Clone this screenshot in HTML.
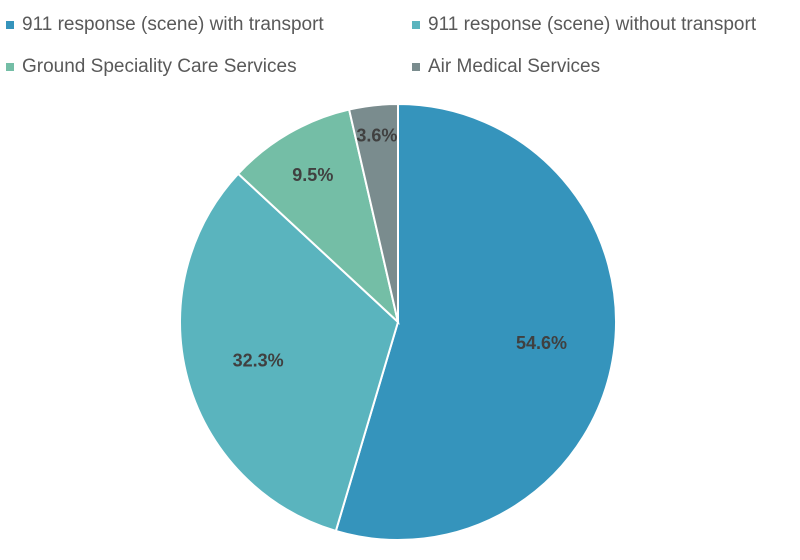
<!DOCTYPE html>
<html><head><meta charset="utf-8"><style>
body{margin:0;background:#fff;width:800px;height:560px;overflow:hidden;font-family:"Liberation Sans",sans-serif}
.leg{position:absolute;font-size:19px;color:#595959;white-space:nowrap}
.sw{position:absolute;width:8px;height:8px}
</style></head><body>
<div>
<div class="sw" style="left:6px;top:21px;background:#3594bc"></div>
<div class="leg" style="left:22px;top:14px">911 response (scene) with transport</div>
<div class="sw" style="left:412px;top:21px;background:#5ab4be"></div>
<div class="leg" style="left:428px;top:14px">911 response (scene) without transport</div>
<div class="sw" style="left:6px;top:63px;background:#74bea6"></div>
<div class="leg" style="left:22px;top:56px">Ground Speciality Care Services</div>
<div class="sw" style="left:412px;top:63px;background:#7a8c8e"></div>
<div class="leg" style="left:428px;top:56px">Air Medical Services</div>
</div>
<svg id="pie" width="800" height="560" style="position:absolute;left:0;top:0"></svg>
<script>
const categories=["911 response (scene) with transport","911 response (scene) without transport","Ground Speciality Care Services","Air Medical Services"];
const values=[54.6,32.3,9.5,3.6];
const labels=["54.6%","32.3%","9.5%","3.6%"];
const colors=["#3594bc","#5ab4be","#74bea6","#7a8c8e"];
const svg=document.getElementById('pie');
const NS="http://www.w3.org/2000/svg";
const cx=398,cy=322,r=218,lr=145;
const total=values.reduce((a,b)=>a+b,0);
let a0=0;
function pt(a,rad){return [cx+rad*Math.sin(a),cy-rad*Math.cos(a)];}
values.forEach((v,i)=>{
  const a1=a0+v/total*2*Math.PI;
  const p0=pt(a0,r),p1=pt(a1,r);
  const large=(a1-a0)>Math.PI?1:0;
  const path=document.createElementNS(NS,'path');
  path.setAttribute('d',`M${cx},${cy} L${p0[0]},${p0[1]} A${r},${r} 0 ${large} 1 ${p1[0]},${p1[1]} Z`);
  path.setAttribute('fill',colors[i]);
  path.setAttribute('stroke','#fff');
  path.setAttribute('stroke-width','2');
  
  
  svg.appendChild(path);
  a0=a1;
});
a0=0;
values.forEach((v,i)=>{
  const a1=a0+v/total*2*Math.PI;
  const m=(a0+a1)/2;
  const rr=v<5?r*0.86:(v<15?r*0.78:lr);
  const p=pt(m,rr);
  const t=document.createElementNS(NS,'text');
  t.setAttribute('x',p[0]);t.setAttribute('y',p[1]+6);
  t.setAttribute('text-anchor','middle');
  t.setAttribute('font-family','Liberation Sans, sans-serif');
  t.setAttribute('font-size','18');t.setAttribute('font-weight','bold');
  t.setAttribute('fill','#404040');
  t.textContent=labels[i];
  
  
  svg.appendChild(t);
  a0=a1;
});
</script>
</body></html>
